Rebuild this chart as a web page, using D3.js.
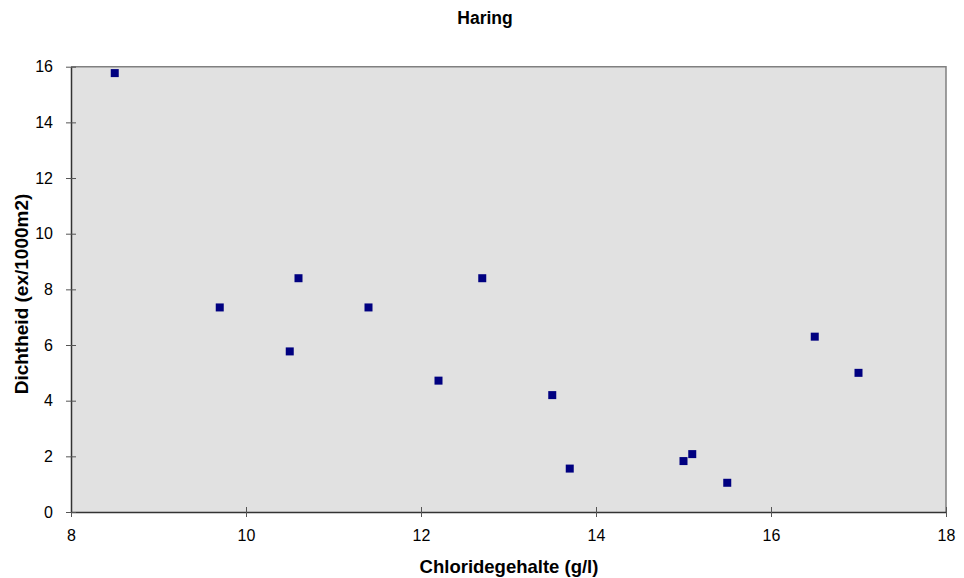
<!DOCTYPE html>
<html>
<head>
<meta charset="utf-8">
<script src="https://cdn.jsdelivr.net/npm/d3@7"></script>
<style>
  html, body { margin: 0; padding: 0; background: #fff; }
  svg { display: block; font-family: Arial, "Liberation Sans", sans-serif; }
</style>
</head>
<body>
<svg id="chart" width="964" height="578"></svg>
<script>
// Chloride content (g/l) against herring density (ex/1000m2)
const chloride = [8.5, 9.7, 10.5, 10.6, 11.4, 12.2, 12.7, 13.5, 13.7, 15.0, 15.1, 15.5, 16.5, 17.0];
const density  = [15.77, 7.35, 5.77, 8.4, 7.35, 4.72, 8.4, 4.2, 1.56, 1.83, 2.08, 1.05, 6.3, 5.0];
const xTicks = [8, 10, 12, 14, 16, 18];
const yTicks = [0, 2, 4, 6, 8, 10, 12, 14, 16];
const titleText = "Haring";
const xTitle = "Chloridegehalte (g/l)";
const yTitle = "Dichtheid (ex/1000m2)";

const svg = d3.select("#chart");
const plot = { left: 71, right: 946, top: 66.7, bottom: 512 };

const x = d3.scaleLinear().domain([8, 18]).range([plot.left, plot.right]);
const y = d3.scaleLinear().domain([0, 16]).range([plot.bottom, plot.top]);

// plot area
svg.append("rect")
  .attr("x", plot.left).attr("y", plot.top)
  .attr("width", plot.right - plot.left).attr("height", plot.bottom - plot.top)
  .attr("fill", "#e1e1e1");
// top and right frame
svg.append("path")
  .attr("d", `M${plot.left},${plot.top}H${plot.right}V${plot.bottom}`)
  .attr("fill", "none").attr("stroke", "#808080").attr("stroke-width", 1.5);

// axes with cross tick marks
const xAxis = d3.axisBottom(x).tickValues(xTicks).tickFormat(d3.format("d"))
  .tickSizeInner(5).tickSizeOuter(0).tickPadding(13);
const gx = svg.append("g").attr("transform", `translate(0,${plot.bottom})`).call(xAxis);
gx.selectAll(".tick line").attr("y1", -5).attr("y2", 5);

const yAxis = d3.axisLeft(y).tickValues(yTicks).tickFormat(d3.format("d"))
  .tickSizeInner(5).tickSizeOuter(0).tickPadding(13);
const gy = svg.append("g").attr("transform", `translate(${plot.left},0)`).call(yAxis);
gy.selectAll(".tick line").attr("x1", -5).attr("x2", 5);

[gx, gy].forEach(g => {
  g.select(".domain").attr("stroke", "#333").attr("stroke-width", 1.5);
  g.selectAll(".tick line").attr("stroke", "#555").attr("stroke-width", 1);
  g.selectAll(".tick text").attr("font-size", 16).attr("fill", "#000")
    .attr("font-family", "Arial, 'Liberation Sans', sans-serif");
});

// points
const pts = chloride.map((c, i) => ({ c, d: density[i] }));
const s = 8;
svg.append("g").selectAll("rect").data(pts).join("rect")
  .attr("x", p => x(p.c) - s / 2).attr("y", p => y(p.d) - s / 2)
  .attr("width", s).attr("height", s)
  .attr("fill", "#000080");

// titles
svg.append("text").attr("x", 485).attr("y", 24).attr("text-anchor", "middle")
  .attr("font-size", 17.5).attr("font-weight", "bold").text(titleText);
svg.append("text").attr("x", 509).attr("y", 573).attr("text-anchor", "middle")
  .attr("font-size", 18.5).attr("font-weight", "bold").text(xTitle);
svg.append("text")
  .attr("transform", `translate(28,294) rotate(-90)`)
  .attr("text-anchor", "middle")
  .attr("font-size", 19).attr("font-weight", "bold").text(yTitle);
</script>
</body>
</html>
